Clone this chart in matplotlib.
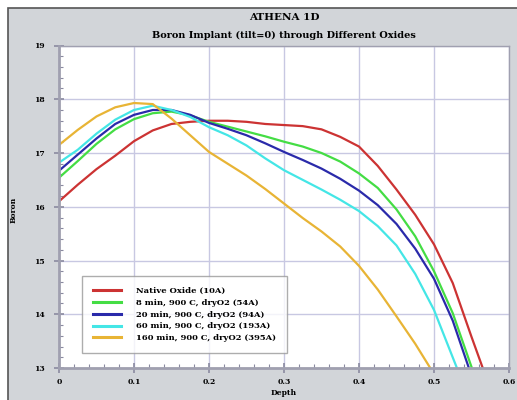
import matplotlib.pyplot as plt
from matplotlib.patches import Rectangle
from matplotlib.ticker import MultipleLocator

# boron profiles through oxide layers of different thickness
depth_red = [0, 0.025, 0.05, 0.075, 0.1, 0.125, 0.15, 0.175, 0.2, 0.225, 0.25, 0.275,
             0.3, 0.325, 0.35, 0.375, 0.4, 0.425, 0.45, 0.475, 0.5, 0.525, 0.55, 0.565]
boron_red = [16.10, 16.41, 16.70, 16.95, 17.22, 17.42, 17.54, 17.58, 17.60, 17.60, 17.58, 17.54,
             17.52, 17.50, 17.44, 17.30, 17.12, 16.76, 16.32, 15.85, 15.30, 14.58, 13.58, 13.0]

depth_green = [0, 0.025, 0.05, 0.075, 0.1, 0.125, 0.15, 0.175, 0.2, 0.225, 0.25, 0.275,
               0.3, 0.325, 0.35, 0.375, 0.4, 0.425, 0.45, 0.475, 0.5, 0.525, 0.55]
boron_green = [16.54, 16.85, 17.17, 17.44, 17.63, 17.74, 17.77, 17.70, 17.58, 17.49, 17.40, 17.31,
               17.21, 17.12, 17.00, 16.84, 16.62, 16.35, 15.95, 15.45, 14.80, 14.02, 13.02]

depth_blue = [0, 0.025, 0.05, 0.075, 0.1, 0.125, 0.15, 0.175, 0.2, 0.225, 0.25, 0.275,
              0.3, 0.325, 0.35, 0.375, 0.4, 0.425, 0.45, 0.475, 0.5, 0.525, 0.546]
boron_blue = [16.67, 16.97, 17.27, 17.54, 17.71, 17.80, 17.80, 17.71, 17.56, 17.45, 17.33, 17.18,
              17.02, 16.87, 16.71, 16.52, 16.30, 16.03, 15.68, 15.22, 14.66, 13.88, 13.02]

depth_cyan = [0, 0.025, 0.05, 0.075, 0.1, 0.125, 0.15, 0.175, 0.2, 0.225, 0.25, 0.275,
              0.3, 0.325, 0.35, 0.375, 0.4, 0.425, 0.45, 0.475, 0.5, 0.53]
boron_cyan = [16.82, 17.06, 17.36, 17.62, 17.80, 17.88, 17.80, 17.67, 17.48, 17.33, 17.14, 16.90,
              16.68, 16.50, 16.32, 16.13, 15.92, 15.64, 15.28, 14.75, 14.08, 13.02]

depth_orange = [0, 0.025, 0.05, 0.075, 0.1, 0.125, 0.15, 0.175, 0.2, 0.225, 0.25, 0.275,
                0.3, 0.325, 0.35, 0.375, 0.4, 0.425, 0.45, 0.475, 0.495]
boron_orange = [17.15, 17.43, 17.68, 17.85, 17.93, 17.91, 17.64, 17.33, 17.02, 16.80, 16.58, 16.33,
                16.06, 15.79, 15.54, 15.26, 14.90, 14.46, 13.96, 13.45, 13.0]

labels = ["Native Oxide (10A)", "8 min, 900 C, dryO2 (54A)", "20 min, 900 C, dryO2 (94A)",
          "60 min, 900 C, dryO2 (193A)", "160 min, 900 C, dryO2 (395A)"]
colors = ["#cc3333", "#44dd44", "#2a2aaa", "#44e6e6", "#e8b435"]

series = [(depth_red, boron_red), (depth_green, boron_green), (depth_blue, boron_blue),
          (depth_cyan, boron_cyan), (depth_orange, boron_orange)]

xticks = [0, 0.1, 0.2, 0.3, 0.4, 0.5, 0.6]
xtick_labels = ["0", "0.1", "0.2", "0.3", "0.4", "0.5", "0.6"]
yticks = [13, 14, 15, 16, 17, 18, 19]
ytick_labels = ["13", "14", "15", "16", "17", "18", "19"]

font = {"family": "DejaVu Serif", "weight": "bold"}

fig = plt.figure(figsize=(5.17, 4.0), dpi=100)
fig.patch.set_facecolor("white")
# gray window panel
fig.add_artist(Rectangle((8 / 517, -0.01), 1.0, (392 / 400) + 0.01, transform=fig.transFigure,
                         facecolor="#d2d5d9", edgecolor="#555555", lw=1.2, zorder=0))

ax = fig.add_axes([59 / 517, 32 / 400, 450 / 517, 322.5 / 400])
ax.set_facecolor("white")

for (x, y), c, lab in zip(series, colors, labels):
    ax.plot(x, y, color=c, lw=1.6, label=lab)

ax.set_xlim(0, 0.6)
ax.set_ylim(13, 19)
ax.set_xticks(xticks)
ax.set_xticklabels(xtick_labels, fontsize=5.5, **font)
ax.set_yticks(yticks)
ax.set_yticklabels(ytick_labels, fontsize=5.5, **font)
ax.xaxis.set_minor_locator(MultipleLocator(0.02))
ax.yaxis.set_minor_locator(MultipleLocator(0.2))
ax.tick_params(which="major", direction="inout", length=7, width=1.2, color="#8a8aa0")
ax.tick_params(axis="x", which="major", pad=4)
ax.tick_params(axis="y", which="major", pad=7)
ax.tick_params(which="minor", direction="in", length=3, width=0.8, color="#8a8aa0")
ax.grid(True, which="major", color="#c8c8e2", lw=1.0)
ax.set_axisbelow(True)
for side in ax.spines:
    ax.spines[side].set_color("#a0a0b0")
    ax.spines[side].set_linewidth(1.0)
ax.spines["left"].set_linewidth(2.0)
ax.spines["bottom"].set_linewidth(2.0)

ax.set_xlabel("Depth", fontsize=5.5, va="center", **font)
ax.xaxis.set_label_coords(0.5, -0.077)
ax.set_ylabel("Boron", fontsize=5.5, va="center", **font)
ax.yaxis.set_label_coords(-0.1, 0.49)

fig.text(284 / 517, 1 - 17 / 400, "ATHENA 1D", ha="center", va="center", fontsize=7.5, **font)
fig.text(284 / 517, 1 - 35 / 400, "Boron Implant (tilt=0) through Different Oxides",
         ha="center", va="center", fontsize=7, **font)

leg = ax.legend(loc="lower left", bbox_to_anchor=(0.051, 0.0465), borderaxespad=0,
                prop={"family": "DejaVu Serif", "weight": "bold", "size": 6},
                fancybox=False, frameon=True, handlelength=3.4, handletextpad=1.8,
                labelspacing=0.45, borderpad=1.3)
leg.get_frame().set_edgecolor("#999999")
leg.get_frame().set_linewidth(1.0)
for line in leg.get_lines():
    line.set_linewidth(2.2)

fig.savefig("out.png", dpi=100)
